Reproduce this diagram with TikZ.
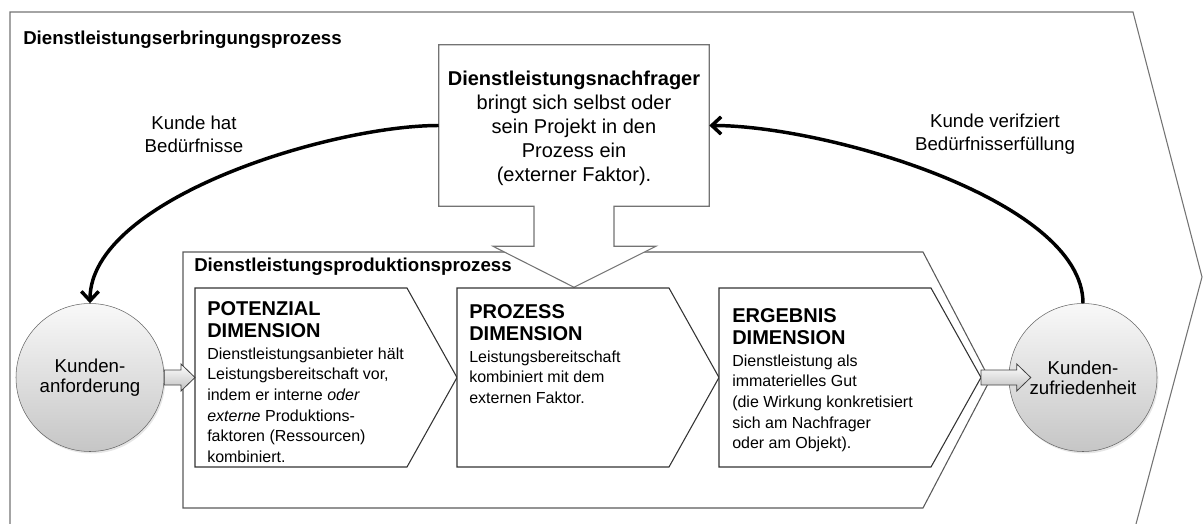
\documentclass[tikz,border=0pt]{standalone}
\usepackage{fontspec}
\setmainfont{Liberation Sans}
\usetikzlibrary{positioning, calc, arrows.meta, shadows}

\tikzstyle{bogen} = [-{Straight Barb[length = 7pt, width = 13pt]}, line width = 2.6pt, color = black]
\tikzstyle{aussen} = [draw = black!55, line width = 0.8pt]
\tikzstyle{prodform} = [draw = black!65, line width = 0.8pt]
\tikzstyle{dimform} = [draw = black!80, line width = 0.8pt, fill = white]
\tikzstyle{boxrand} = [draw = black!55, line width = 0.8pt, fill = white]
\tikzstyle{blockstil} = [draw = black!75, line width = 0.6pt, top color = white, bottom color = gray!50]
\tikzset{kreis/.style = {circle, draw = black!60, minimum size = 111pt, inner sep = 0pt, top color = gray!5, bottom color = gray!45, align = center, font = \fontsize{14}{15}\selectfont, drop shadow = {opacity = 0.2, shadow xshift = 1pt, shadow yshift = -1.5pt}}}
\tikzset{dimtext/.style = {anchor = north west, inner sep = 0pt, align = left, font = \fontsize{12}{15.5}\selectfont}}
\tikzset{etikett/.style = {align = center, inner sep = 0pt, font = \fontsize{14}{17}\selectfont}}

\newcommand{\kopf}[1]{{\fontsize{15}{16}\selectfont\bfseries #1}}
\newcommand{\blockpfeil}[2]{%
  \draw[blockstil] ($(#1)+(0,-7.5)$) -- ($(#2)+(-14,-7.5)$) -- ($(#2)+(-14,-13.5)$) -- (#2) -- ($(#2)+(-14,13.5)$) -- ($(#2)+(-14,7.5)$) -- ($(#1)+(0,7.5)$) -- cycle;}

\begin{document}
\begin{tikzpicture}[x = 0.75pt, y = -0.75pt]
    \useasboundingbox (0,0) rectangle (1203,524);
    % Erbringungsprozess
    \draw[aussen] (10,524) -- (10,12) -- (1133,12) -- (1202,277) -- (1136,524);
    \node[anchor = base west, inner sep = 0pt, font = \fontsize{14}{17}\selectfont\bfseries] (titel) at (23,45) {Dienstleistungserbringungsprozess};
    % Produktionsprozess
    \draw[prodform] (183,508) -- (183,252) -- (923,252) -- (990,380) -- (923,508) -- cycle;
    \node[anchor = base west, inner sep = 0pt, font = \fontsize{14}{17}\selectfont\bfseries] (prodtitel) at (194,272) {Dienstleistungsproduktionsprozess};
    % Nachfrager
    \node[rectangle, minimum width = 202.5pt, minimum height = 120.75pt, inner sep = 0pt] (nachfrager) at (574,125.5) {};
    \draw[boxrand] (nachfrager.south west) -- (nachfrager.north west) -- (nachfrager.north east) -- (nachfrager.south east)
        -- ($(nachfrager.south)+(40,0)$) -- ++(0,40) -- ++(42,0) -- ($(nachfrager.south)+(0,81)$)
        -- ($(nachfrager.south)+(-81,40)$) -- ++(41,0) -- ($(nachfrager.south)+(-40,0)$) -- cycle;
    \node[align = center, inner sep = 0pt, font = \fontsize{15}{18}\selectfont] (nachfragetext) at ($(nachfrager.center)+(0,3)$)
        {\textbf{Dienstleistungsnachfrager}\\bringt sich selbst oder\\sein Projekt in den\\Prozess ein\\(externer Faktor).};
    % Dimensionen
    \foreach \x/\n in {195/pot, 457/proz, 719/erg}{
        \draw[dimform] (\x,288) -- ++(212,0) -- ++(50,89.5) -- ++(-50,89.5) -- ++(-212,0) -- cycle;
        \coordinate (\n-w) at (\x,377.5);
        \coordinate (\n-o) at (\x+262,377.5);
    }
    \node[dimtext] (pottext) at (207,301) {\kopf{POTENZIAL}\\[1pt]\kopf{DIMENSION}\\[1pt]Dienstleistungsanbieter hält\\Leistungsbereitschaft vor,\\indem er interne \textit{oder}\\\textit{externe} Produktions-\\faktoren (Ressourcen)\\kombiniert.};
    \node[dimtext] (prozesstext) at (469,304) {\kopf{PROZESS}\\[1pt]\kopf{DIMENSION}\\[1pt]Leistungsbereitschaft\\kombiniert mit dem\\externen Faktor.};
    \node[dimtext] (ergtext) at (732,308) {\kopf{ERGEBNIS}\\[1pt]\kopf{DIMENSION}\\[1pt]Dienstleistung als\\immaterielles Gut\\(die Wirkung konkretisiert\\sich am Nachfrager\\oder am Objekt).};
    % Kunde
    \node[kreis] (anf) at (90,377.5) {Kunden-\\anforderung};
    \node[kreis] (zuf) at (1083,377.5) {Kunden-\\zufriedenheit};
    \coordinate (zuf-in) at ($(zuf.west)+(22,0)$);
    \blockpfeil{anf.east}{pot-w}
    \blockpfeil{erg-o}{zuf-in}
    % Boegen
    \draw[bogen] (nachfrager.west) .. controls +(-109,0) and +(0,-104) .. (anf.north);
    \draw[bogen] (zuf.north) .. controls +(0,-103) and +(117,0) .. (nachfrager.east);
    \node[etikett] (bedarf) at (194,134) {Kunde hat\\Bedürfnisse};
    \node[etikett] (erfuellung) at (995,134) {Kunde verifziert\\Bedürfnisserfüllung};
\end{tikzpicture}
\end{document}
